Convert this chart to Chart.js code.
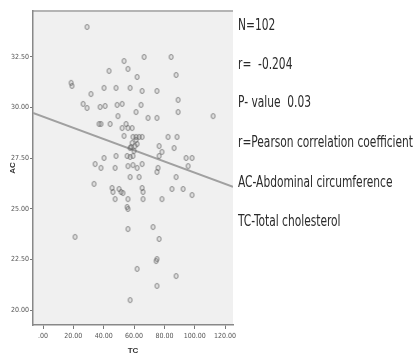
<!DOCTYPE html>
<html><head><meta charset="utf-8">
<script src="https://cdn.jsdelivr.net/npm/chart.js@4"></script>
<style>
html,body{margin:0;padding:0;background:#fff;}
#wrap{position:relative;width:414px;height:356px;overflow:hidden;}
#c{position:absolute;left:0;top:0;}
.note{position:absolute;left:238px;font-family:"Liberation Sans Narrow","DejaVu Sans Condensed","Liberation Sans",sans-serif;font-size:16px;line-height:18px;color:#2a2a2a;white-space:pre;transform-origin:0 50%;}
</style></head>
<body><div id="wrap"><canvas id="c" width="414" height="356"></canvas></div>
<script>
// ---- data ----
const tcValues = [29.0,53.4,43.5,56.0,18.5,19.1,31.6,40.2,48.1,57.4,62.0,26.4,29.0,37.6,40.9,48.8,52.1,49.4,61.3,36.9,38.2,44.2,52.1,54.7,56.0,58.7,53.4,59.3,61.3,63.3,65.3,58.7,62.0,57.4,60.0,66.6,84.4,87.7,65.3,75.1,89.0,64.6,89.0,69.2,75.1,112.1,82.4,88.3,76.5,86.4,78.4,76.5,94.3,98.2,95.6,75.8,75.1,55.4,57.4,59.3,56.0,59.3,62.0,65.3,57.4,63.3,87.7,34.3,38.2,40.2,48.1,47.5,33.6,45.5,46.1,50.1,51.4,52.7,47.5,56.0,56.0,55.4,56.0,21.1,62.0,57.4,65.3,65.9,65.9,78.4,85.0,92.3,98.2,72.5,76.5,75.1,74.5,87.7,75.1,58.0,60.6,61.3];
const acValues = [33.98,32.30,31.81,31.91,31.22,31.07,30.67,30.97,30.97,30.97,31.51,30.18,29.98,30.03,30.08,30.13,30.18,29.58,29.78,29.19,29.19,29.19,28.99,29.19,28.99,28.99,28.60,28.55,28.55,28.55,28.55,28.25,28.20,28.00,27.86,32.50,32.50,31.61,30.82,30.82,30.38,30.13,29.78,29.49,29.49,29.58,28.55,28.55,28.10,28.00,27.81,27.61,27.51,27.51,27.11,27.02,26.82,27.61,27.56,27.61,27.11,27.16,27.02,27.21,26.57,26.57,26.57,27.21,27.02,27.51,27.61,27.02,26.23,26.03,25.83,25.98,25.83,25.78,25.48,25.48,24.99,25.09,24.00,23.61,22.03,20.49,26.03,25.83,25.48,25.48,25.98,25.98,25.68,24.10,23.51,22.52,22.42,21.68,21.19,28.05,28.10,28.40];
const fitIntercept = 29.55;
const fitSlope = -0.0277;
const xTickValues = [0,20,40,60,80,100,120];
const xTickLabels = [".00","20.00","40.00","60.00","80.00","100.00","120.00"];
const yTickValues = [20,22.5,25,27.5,30,32.5];
const yTickLabels = ["20.00","22.50","25.00","27.50","30.00","32.50"];
const xRange = [-6.6, 125.2];
const yRange = [19.26, 34.77];
const noteLines = ["N=102","r=  -0.204","P- value  0.03","r=Pearson correlation coefficient","AC-Abdominal circumference","TC-Total cholesterol"];

// ---- notes ----
const wrap = document.getElementById('wrap');
const noteCenters = [25,64,102,142,182,221];
const els = noteLines.map((t,i)=>{const d=document.createElement('div');d.className='note';d.textContent=t;d.style.top=(noteCenters[i]-9)+'px';wrap.appendChild(d);return d;});
const longest = els[3].getBoundingClientRect().width;
const sx = 175/longest;
els.forEach(d=>d.style.transform='scaleX('+sx+')');

// ---- marker ----
function makeDot(){const c=document.createElement('canvas');c.width=7;c.height=8;const g=c.getContext('2d');g.strokeStyle='rgba(95,95,95,0.85)';g.lineWidth=1;g.beginPath();g.ellipse(3.5,4,1.8,2.5,0,0,Math.PI*2);g.stroke();return c;}
const dot = makeDot();

const points = tcValues.map((x,i)=>({x:x,y:acValues[i]}));
const fitLine = xRange.map(x=>({x:x,y:fitIntercept+fitSlope*x}));

const bgPlugin = {id:'bg',beforeDraw(chart){const {ctx,chartArea:a}=chart;ctx.save();ctx.fillStyle='#f0f0f0';ctx.fillRect(a.left,a.top,a.right-a.left,a.bottom-a.top);ctx.strokeStyle='#b4b4b4';ctx.lineWidth=2;ctx.beginPath();ctx.moveTo(a.left,a.top);ctx.lineTo(a.right,a.top);ctx.stroke();ctx.restore();}};

const tickFont = {family:'"Liberation Sans Narrow","DejaVu Sans Condensed",sans-serif',size:7};
const titleFont = {family:'"Liberation Sans","DejaVu Sans",sans-serif',size:8,weight:'bold'};

new Chart(document.getElementById('c'),{
  type:'scatter',
  data:{datasets:[
    {type:'line',data:fitLine,borderColor:'#a0a0a0',borderWidth:2,pointRadius:0,fill:false,order:2},
    {data:points,pointStyle:dot,pointRadius:3,order:1}
  ]},
  options:{
    responsive:false,animation:false,devicePixelRatio:1,
    layout:{padding:{left:0,top:11,right:181,bottom:0}},
    plugins:{legend:{display:false},tooltip:{enabled:false}},
    scales:{
      x:{type:'linear',min:xRange[0],max:xRange[1],
        afterFit(s){s.height=31;},
        afterBuildTicks(s){s.ticks=xTickValues.map(v=>({value:v}));},
        ticks:{font:tickFont,color:'#555',padding:3,maxRotation:0,autoSkip:false,callback:(v)=>{const i=xTickValues.indexOf(v);return i>=0?xTickLabels[i]:'';}},
        grid:{drawOnChartArea:false,drawTicks:true,tickLength:4,tickColor:'#777'},
        border:{color:'#888',width:1.5},
        title:{display:true,text:'TC',font:titleFont,color:'#333',padding:{top:0,bottom:0}}
      },
      y:{type:'linear',min:yRange[0],max:yRange[1],
        afterFit(s){s.width=33;},
        afterBuildTicks(s){s.ticks=yTickValues.map(v=>({value:v}));},
        ticks:{font:tickFont,color:'#555',padding:1,autoSkip:false,callback:(v)=>{const i=yTickValues.indexOf(v);return i>=0?yTickLabels[i]:'';}},
        grid:{drawOnChartArea:false,drawTicks:true,tickLength:3,tickColor:'#777'},
        border:{color:'#888',width:1.5},
        title:{display:true,text:'AC',font:titleFont,color:'#333',padding:{top:8,bottom:0}}
      }
    }
  },
  plugins:[bgPlugin]
});
</script>
</body></html>
